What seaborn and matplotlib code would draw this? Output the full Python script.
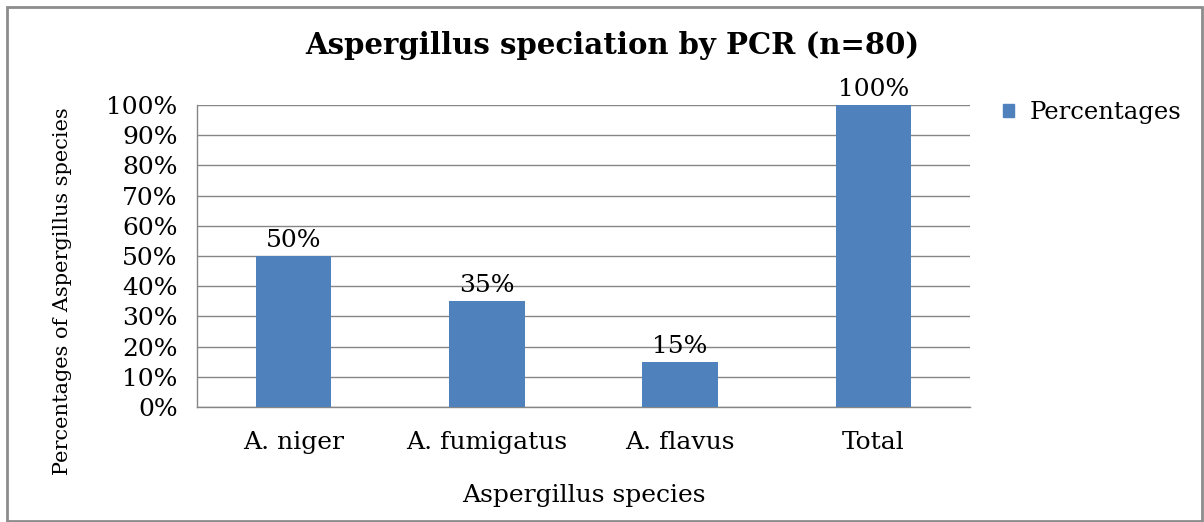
import matplotlib
matplotlib.use("Agg")
import matplotlib.pyplot as plt
import matplotlib.patches as mpatches
from matplotlib.ticker import FixedLocator, PercentFormatter
import seaborn as sns
import pandas as pd

species = ["A. niger", "A. fumigatus", "A. flavus", "Total"]
percentages = [50, 35, 15, 100]
y_ticks = list(range(0, 101, 10))

BAR_COLOR = "#4F81BD"
GRID_COLOR = "#868686"

sns.set_style("white")
plt.rcParams['font.family'] = ['DejaVu Serif']
plt.rcParams['text.color'] = 'black'
plt.rcParams['axes.labelcolor'] = 'black'
plt.rcParams['xtick.labelcolor'] = 'black'
plt.rcParams['ytick.labelcolor'] = 'black'

df = pd.DataFrame({"species": species, "pct": percentages})

fig = plt.figure(figsize=(12.04, 5.22), dpi=100)
ax = fig.add_axes([197 / 1204, 1 - 407 / 522, (970 - 197) / 1204, (407 - 105) / 522])

sns.barplot(data=df, x="species", y="pct", color=BAR_COLOR, width=0.39,
            saturation=1, linewidth=0, ax=ax, zorder=3)

ax.set_ylim(0, 100)
ax.set_xlim(-0.5, len(species) - 0.5)
ax.set_yticks(y_ticks)
ax.yaxis.set_major_formatter(PercentFormatter(decimals=0))
ax.yaxis.grid(True, color=GRID_COLOR, linewidth=1)
ax.set_axisbelow(True)

for s in ["top", "right"]:
    ax.spines[s].set_visible(False)
for s in ["left", "bottom"]:
    ax.spines[s].set_color(GRID_COLOR)
    ax.spines[s].set_linewidth(1)

ax.tick_params(axis="y", length=9, width=1, color=GRID_COLOR, labelsize=18, pad=5)
ax.tick_params(axis="x", which="major", length=0, labelsize=18, pad=17)
ax.xaxis.set_minor_locator(FixedLocator([i - 0.5 for i in range(len(species) + 1)]))
ax.tick_params(axis="x", which="minor", length=8, width=1, color=GRID_COLOR)

for container in ax.containers:
    ax.bar_label(container, labels=[f"{v:g}%" for v in percentages],
                 fontsize=18, padding=3)

ax.set_xlabel("Aspergillus species", fontsize=18, labelpad=22)
ax.set_ylabel("Percentages of Aspergillus species", fontsize=15)
ax.yaxis.set_label_coords(-0.162, 0.385)

fig.text(612 / 1204, 1 - 45 / 522, "Aspergillus speciation by PCR (n=80)",
         ha="center", va="center", fontsize=21, fontweight="bold")

handle = mpatches.Patch(color=BAR_COLOR, label="Percentages")
fig.legend(handles=[handle], loc="center left", bbox_to_anchor=(993 / 1204, 1 - 113 / 522),
           frameon=False, fontsize=17.5, handlelength=0.45, handleheight=0.45,
           handletextpad=0.65, borderaxespad=0)

border = mpatches.Rectangle((7 / 1204, 0.002), 1 - 9 / 1204, 1 - 7 / 522 - 0.002,
                            transform=fig.transFigure, fill=False,
                            edgecolor="#8C8C8C", linewidth=2)
fig.add_artist(border)

fig.savefig("out.png", dpi=100)
plt.close("all")
